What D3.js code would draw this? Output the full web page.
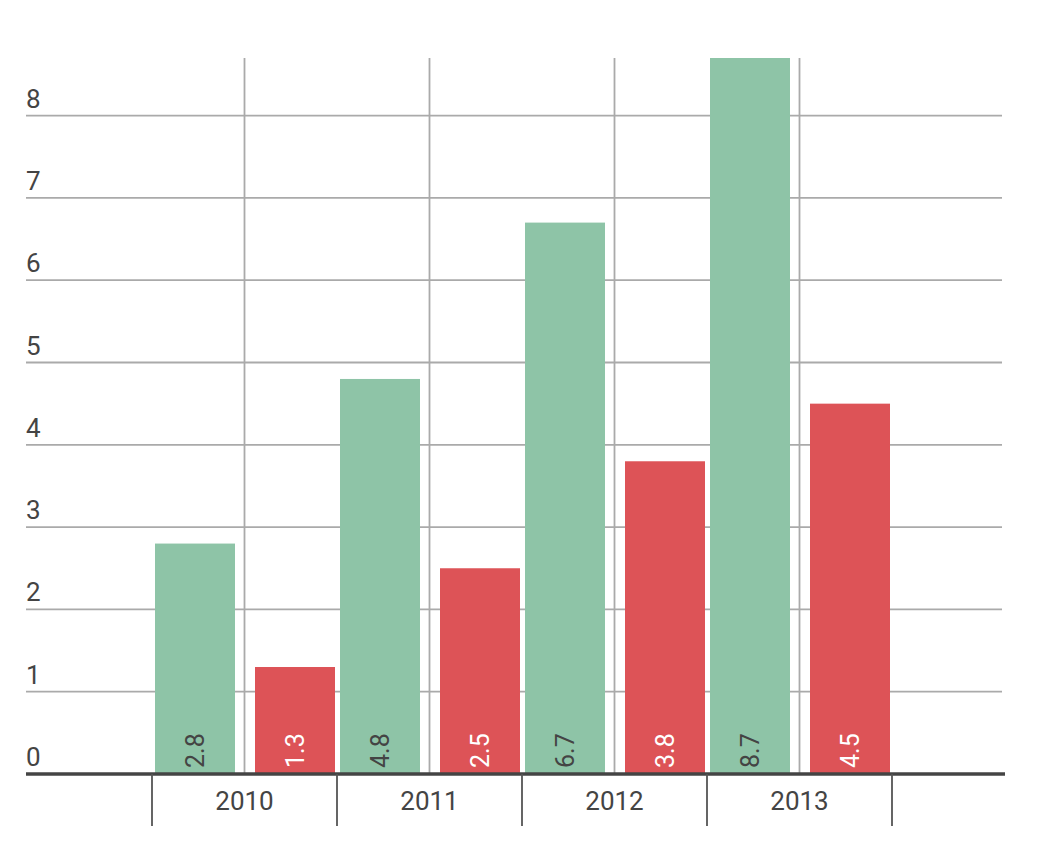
<!DOCTYPE html>
<html>
<head>
<meta charset="utf-8">
<script src="https://cdn.jsdelivr.net/npm/d3@7"></script>
<style>
  html, body { margin: 0; padding: 0; background: #fff; }
  svg { display: block; font-family: Roboto, "Noto Sans", sans-serif; }
</style>
</head>
<body>
<svg id="chart" width="1052" height="844"></svg>
<script>
const categories = ["2010", "2011", "2012", "2013"];
const seriesNames = ["A", "B"];
const seriesA = [2.8, 4.8, 6.7, 8.7];
const seriesB = [1.3, 2.5, 3.8, 4.5];
const yTicks = [0, 1, 2, 3, 4, 5, 6, 7, 8];

const colors = { A: "#8ec4a7", B: "#dd5357" };
const labelColors = { A: "#444", B: "#fff" };

const svg = d3.select("#chart");
const plotLeft = 26, plotRight = 1002, plotTop = 58, plotBase = 774;

const x = d3.scaleBand().domain(categories).range([152, 892]).paddingInner(0).paddingOuter(0);
const xSub = d3.scaleBand().domain(seriesNames).range([3, x.bandwidth() - 2]).paddingInner(0.2);
const y = d3.scaleLinear().domain([0, 8.7]).range([plotBase, plotTop]);

// horizontal gridlines
svg.append("g").selectAll("line").data(yTicks.filter(d => d > 0)).join("line")
  .attr("x1", plotLeft).attr("x2", plotRight)
  .attr("y1", d => y(d)).attr("y2", d => y(d))
  .attr("stroke", "#aaa").attr("stroke-width", 1.8);

// vertical gridlines at band centers
svg.append("g").selectAll("line").data(categories).join("line")
  .attr("x1", d => x(d) + x.bandwidth() / 2).attr("x2", d => x(d) + x.bandwidth() / 2)
  .attr("y1", plotTop).attr("y2", plotBase)
  .attr("stroke", "#aaa").attr("stroke-width", 1.8);

// y labels
svg.append("g").selectAll("text").data(yTicks).join("text")
  .attr("x", plotLeft).attr("y", d => y(d) - 8)
  .attr("fill", "#444").attr("font-size", 26)
  .text(d => d);

// bars
const rows = categories.map((c, i) => ({ cat: c, vals: [{ s: "A", v: seriesA[i] }, { s: "B", v: seriesB[i] }] }));
const groups = svg.append("g").selectAll("g").data(rows).join("g")
  .attr("transform", d => `translate(${x(d.cat)},0)`);

groups.selectAll("rect").data(d => d.vals).join("rect")
  .attr("x", d => xSub(d.s)).attr("width", xSub.bandwidth())
  .attr("y", d => y(d.v)).attr("height", d => plotBase - y(d.v))
  .attr("fill", d => colors[d.s]);

groups.selectAll("text").data(d => d.vals).join("text")
  .attr("transform", d => `translate(${xSub(d.s) + xSub.bandwidth() / 2},${plotBase - 6}) rotate(-90)`)
  .attr("dy", "0.35em")
  .attr("text-anchor", "start")
  .attr("fill", d => labelColors[d.s]).attr("font-size", 25)
  .text(d => d.v);

// baseline
svg.append("line").attr("x1", plotLeft).attr("x2", 1005)
  .attr("y1", plotBase).attr("y2", plotBase)
  .attr("stroke", "#444").attr("stroke-width", 3.6);

// x axis ticks (band edges)
const edges = categories.map(c => x(c)).concat([x.range()[1]]);
svg.append("g").selectAll("line").data(edges).join("line")
  .attr("x1", d => d).attr("x2", d => d)
  .attr("y1", plotBase).attr("y2", 826)
  .attr("stroke", "#555").attr("stroke-width", 1.8);

// x labels
svg.append("g").selectAll("text").data(categories).join("text")
  .attr("x", d => x(d) + x.bandwidth() / 2).attr("y", 810)
  .attr("text-anchor", "middle")
  .attr("fill", "#444").attr("font-size", 26)
  .text(d => d);
</script>
</body>
</html>
